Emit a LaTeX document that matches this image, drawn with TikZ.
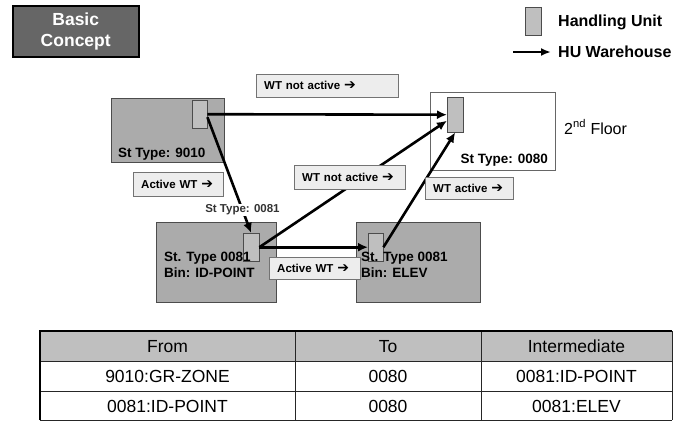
\documentclass[tikz,border=0pt]{standalone}
\usepackage{fontspec}
\setmainfont{Liberation Sans}
\newfontfamily\arrowfont{DejaVu Sans}
\usepackage{tikz}
\usetikzlibrary{arrows.meta, positioning, calc}
\newcommand{\wtarrow}{{\arrowfont\bfseries\fontsize{14}{12}\selectfont ➔}}

\begin{document}
\begin{tikzpicture}[x=1pt, y=-1pt,
    area/.style={rectangle, draw=black!70, fill=black!33, anchor=north west, inner sep=0pt},
    floor/.style={rectangle, draw=black!60, fill=white, anchor=north west, inner sep=0pt},
    hu/.style={rectangle, draw=black!70, fill=black!25, anchor=north west, inner sep=0pt, minimum width=15pt, minimum height=28pt},
    wtlabel/.style={rectangle, draw=black!55, fill=black!7, anchor=north west, inner xsep=8pt, inner ysep=0pt, minimum height=23pt, align=left, font=\bfseries\fontsize{11.5}{12}\selectfont},
    areatext/.style={inner sep=0pt, align=left, font=\bfseries\fontsize{13.5}{15.5}\selectfont},
    cell/.style={inner sep=0pt, anchor=base, font=\fontsize{17.5}{20}\selectfont},
    flow/.style={-{Latex[length=10pt, width=9pt]}, line width=2.6pt}]

    \useasboundingbox (0,0) rectangle (673,421);

    \node [rectangle, draw=black, line width=1.5pt, fill=black!60, anchor=north west, minimum width=126pt, minimum height=51pt, text=white, align=center, font=\bfseries\fontsize{17.5}{21}\selectfont] (title) at (12,5) {Basic\\Concept};

    \node [hu, minimum width=16pt] (legendhu) at (525,7) {};
    \node [anchor=base west, inner sep=0pt, font=\bfseries\fontsize{16}{18}\selectfont] (legendhutxt) at (558,26) {Handling Unit};
    \node [anchor=base west, inner sep=0pt, font=\bfseries\fontsize{16}{18}\selectfont] (legendwh) at (558,57) {HU Warehouse};
    \coordinate (legendtail) at (513,52);
    \draw [-{Latex[length=10pt, width=8pt]}, line width=2.4pt] (legendtail) -- ([xshift=-7pt]legendwh.west |- legendtail);

    \node [area, minimum width=113pt, minimum height=64pt] (gr) at (111,98) {};
    \node [hu] (hugr) at (192,100) {};
    \node [areatext, anchor=base west] (grtxt) at (118,157) {St Type: 9010};

    \node [floor, minimum width=125pt, minimum height=78pt] (fl) at (430,92) {};
    \node [hu, minimum width=16pt, minimum height=35pt] (hufl) at (447,97) {};
    \node [areatext, anchor=base east] (fltxt) at (548,163) {St Type: 0080};
    \node [anchor=base west, inner sep=0pt, font=\fontsize{16}{18}\selectfont] (floortxt) at (564,134) {2\textsuperscript{nd} Floor};

    \node [area, minimum width=120pt, minimum height=80pt] (idp) at (156,222) {};
    \node [hu, minimum width=16pt] (huidp) at (243,233) {};
    \node [areatext, anchor=base west] (idptxt) at (164,277) {St. Type 0081\\Bin: ID-POINT};

    \node [area, minimum width=124pt, minimum height=80pt] (elev) at (356,222) {};
    \node [hu] (huelev) at (368,233) {};
    \node [areatext, anchor=base west] (elevtxt) at (361,277) {St. Type 0081\\Bin: ELEV};

    \draw [flow] (hugr.east) -- (hufl.west);
    \draw [flow] ([yshift=-3pt]hugr.east) -- node[pos=0.8, fill=white, inner sep=1pt, text=black!80, font=\bfseries\fontsize{11.5}{12}\selectfont] (idplabel) {St Type: 0081} (huidp.north);
    \draw [flow] (huidp.east) -- ([yshift=-6pt]hufl.west);
    \draw [flow] (huidp.east) -- (huelev.west);
    \draw [flow] (huelev.east) -- (hufl.south);

    \node [wtlabel, text width=126pt] (wtoff1) at (256,74) {WT not active \wtarrow};
    \node [wtlabel, text width=74pt, minimum height=24pt] (wton1) at (133,172) {Active WT \wtarrow};
    \node [wtlabel, text width=95pt, minimum height=24pt] (wtoff2) at (294,165) {WT not active \wtarrow};
    \node [wtlabel, text width=72pt, minimum height=22pt] (wton2) at (425,177) {WT active \wtarrow};
    \node [wtlabel, text width=75pt, minimum height=22pt] (wton3) at (269,257) {Active WT \wtarrow};

    \fill [black!25] (40,331) rectangle (672,361);
    \draw [black!85, line width=0.8pt] (40,361) -- (672,361) (40,391) -- (672,391) (295,331) -- (295,420) (481,331) -- (481,420) (40,420) -- (672,420) (672,331) -- (672,420);
    \draw [black, line width=1.3pt] (40,420) -- (40,331) -- (672,331);

    \node [cell] (hfrom) at (167.5,352.5) {From};
    \node [cell] (hto) at (388,352.5) {To};
    \node [cell] (hvia) at (576.5,352.5) {Intermediate};
    \node [cell] (from1) at (167.5,382.5) {9010:GR-ZONE};
    \node [cell] (to1) at (388,382.5) {0080};
    \node [cell] (via1) at (576.5,382.5) {0081:ID-POINT};
    \node [cell] (from2) at (167.5,412) {0081:ID-POINT};
    \node [cell] (to2) at (388,412) {0080};
    \node [cell] (via2) at (576.5,412) {0081:ELEV};
\end{tikzpicture}
\end{document}
